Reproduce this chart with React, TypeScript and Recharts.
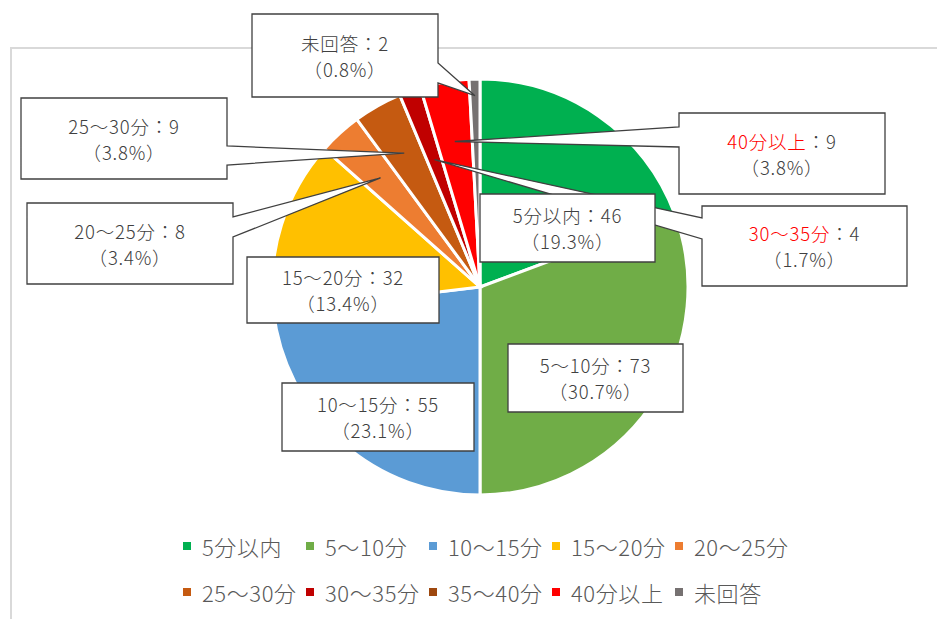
import { PieChart, Pie, Cell, Legend } from 'recharts';

const categories = ['5分以内', '5～10分', '10～15分', '15～20分', '20～25分', '25～30分', '30～35分', '35～40分', '40分以上', '未回答'];
const counts = [46, 73, 55, 32, 8, 9, 4, 0, 9, 2];
const colors = ['#00B050', '#70AD47', '#5B9BD5', '#FFC000', '#ED7D31', '#C55A11', '#C00000', '#9E480E', '#FF0000', '#767171'];

const data = categories.map((name, i) => ({ name, value: counts[i] }));

// label boxes, placed relative to the pie centre; pointer ones have a wedge to the slice
type Callout = {
  dx: number;
  dy: number;
  w: number;
  h: number;
  side?: 'left' | 'right';
  b1?: number;
  b2?: number;
  reach?: number;
  red?: boolean;
} | null;

const callouts: Callout[] = [
  { dx: 0, dy: -93, w: 175, h: 68 },
  { dx: 28, dy: 57, w: 175, h: 68 },
  { dx: -198, dy: 96, w: 192, h: 68 },
  { dx: -233, dy: -30, w: 192, h: 66 },
  { dx: -453, dy: -84, w: 206, h: 81, side: 'right', b1: 14, b2: 34, reach: 0.71 },
  { dx: -459, dy: -189, w: 206, h: 81, side: 'right', b1: 48, b2: 67, reach: 0.74 },
  { dx: 222, dy: -81, w: 205, h: 80, side: 'left', b1: 12, b2: 33, reach: 0.65, red: true },
  null,
  { dx: 199, dy: -174, w: 206, h: 81, side: 'left', b1: 14, b2: 34, reach: 0.71, red: true },
  { dx: -228, dy: -273, w: 186, h: 83, side: 'right', b1: 49, b2: 69, reach: 0.92 },
];

const RADIAN = Math.PI / 180;
const FONT = '"Noto Sans CJK JP", "Noto Sans", sans-serif';
const LINE_GAP = 26;

function makeLabel(withPointer: boolean) {
  return (props: any) => {
    const { cx, cy, midAngle, outerRadius, index, percent, value } = props;
    const c = callouts[index];
    if (!c) return null;
    if (!!c.side !== withPointer) return null;
    const name = categories[index];
    const x = cx + c.dx;
    const y = cy + c.dy;
    let d = `M${x},${y}H${x + c.w}V${y + c.h}H${x}Z`;
    if (c.side) {
      const r = outerRadius * (c.reach ?? 0.7);
      const tx = cx + r * Math.cos(-midAngle * RADIAN);
      const ty = cy + r * Math.sin(-midAngle * RADIAN);
      if (c.side === 'right') {
        d = `M${x},${y}H${x + c.w}V${y + c.b1!}L${tx},${ty}L${x + c.w},${y + c.b2!}V${y + c.h}H${x}Z`;
      } else {
        d = `M${x},${y}H${x + c.w}V${y + c.h}H${x}V${y + c.b2!}L${tx},${ty}L${x},${y + c.b1!}Z`;
      }
    }
    const mx = x + c.w / 2;
    const my = y + c.h / 2;
    const textStyle = { letterSpacing: 0.8 };
    return (
      <g key={`callout-${index}`}>
        <path d={d} fill="#fff" stroke="#404040" strokeWidth={1.3} strokeLinejoin="miter" />
        <text x={mx} y={my - LINE_GAP / 2} textAnchor="middle" dominantBaseline="central" fontFamily={FONT} fontSize={18.5} fontWeight={300} fill="#404040" style={textStyle}>
          {c.red ? (
            <>
              <tspan fill="#FF0000">{name}</tspan>
              <tspan>{`：${value}`}</tspan>
            </>
          ) : (
            `${name}：${value}`
          )}
        </text>
        <text x={mx} y={my + LINE_GAP / 2} textAnchor="middle" dominantBaseline="central" fontFamily={FONT} fontSize={18.5} fontWeight={300} fill="#404040" style={textStyle}>
          {`（${(percent * 100).toFixed(1)}%）`}
        </text>
      </g>
    );
  };
}

function LegendGrid() {
  const rows = [categories.slice(0, 5), categories.slice(5)];
  return (
    <div style={{ paddingLeft: 183, fontFamily: FONT, fontSize: 22, fontWeight: 300, letterSpacing: 0.6, color: '#595959' }}>
      {rows.map((row, r) => (
        <div key={r} style={{ display: 'flex', height: 46, alignItems: 'center' }}>
          {row.map((name, i) => (
            <div key={name} style={{ width: 123, display: 'flex', alignItems: 'center', whiteSpace: 'nowrap' }}>
              <span style={{ width: 8, height: 8, background: colors[r * 5 + i], marginRight: 11, flex: 'none' }} />
              <span>{name}</span>
            </div>
          ))}
        </div>
      ))}
    </div>
  );
}

export default function App() {
  return (
    <div style={{ position: 'fixed', left: 0, top: 0, width: 937, height: 619, overflow: 'hidden', background: '#fff' }}>
      <div style={{ position: 'absolute', left: 10, top: 47, width: 980, height: 640, border: '2px solid #D9D9D9' }} />
      <div style={{ position: 'absolute', left: 0, top: 0 }}>
        <PieChart width={937} height={619} margin={{ top: 0, right: 0, bottom: 0, left: 0 }}>
          <Pie
            data={data}
            dataKey="value"
            nameKey="name"
            cx={480}
            cy={287}
            outerRadius={208}
            startAngle={90}
            endAngle={-270}
            stroke="#fff"
            strokeWidth={3}
            label={makeLabel(true)}
            labelLine={false}
            isAnimationActive={false}
          >
            {data.map((entry, index) => (
              <Cell key={`cell-${index}`} fill={colors[index]} />
            ))}
          </Pie>
          <Pie
            data={data}
            dataKey="value"
            nameKey="name"
            cx={480}
            cy={287}
            outerRadius={208}
            startAngle={90}
            endAngle={-270}
            fill="none"
            stroke="none"
            legendType="none"
            label={makeLabel(false)}
            labelLine={false}
            isAnimationActive={false}
          />
          <Legend
            content={() => <LegendGrid />}
            wrapperStyle={{ position: 'absolute', left: 0, top: 523, width: 937 }}
          />
        </PieChart>
      </div>
    </div>
  );
}
